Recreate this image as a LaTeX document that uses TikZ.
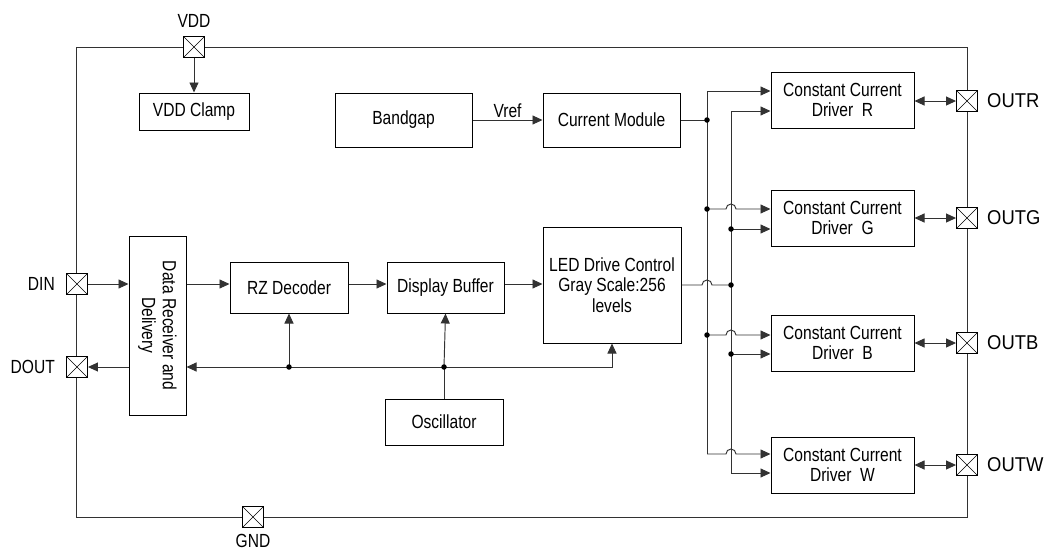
\documentclass[tikz,border=0pt]{standalone}
\usepackage{fontspec}
\setmainfont{Liberation Sans}[FakeStretch=0.82]
\newfontfamily\padfont{Liberation Sans}[FakeStretch=0.92]
\usetikzlibrary{arrows.meta}
\begin{document}
\begin{tikzpicture}[x=1pt,y=-1pt,
  font=\fontsize{19}{20.7}\selectfont,
  blk/.style={draw=black,line width=1pt,fill=white,align=center,inner sep=1pt},
  pad/.style={draw=black,line width=0.9pt,fill=white,minimum size=21pt,inner sep=0pt,
    path picture={\draw[line width=0.6pt] (path picture bounding box.north west)--(path picture bounding box.south east)
      (path picture bounding box.north east)--(path picture bounding box.south west);}},
  wire/.style={draw={rgb,255:red,50;green,50;blue,50},line width=0.95pt},
  arr/.style={wire,-{Triangle[length=10pt,width=9pt]}},
  barr/.style={wire,{Triangle[length=10pt,width=9pt]}-{Triangle[length=10pt,width=9pt]}},
  dot/.style={circle,fill=black,inner sep=0pt,minimum size=5.5pt},
  lbl/.style={inner sep=1pt},
  olbl/.style={inner sep=1pt,font=\padfont\fontsize{20}{22}\selectfont}]
\useasboundingbox (0,0) rectangle (1045,550);
% outer frame
\draw[wire] (76,47) rectangle (967,517);
% pads
\node[pad] (vdd) at (194,47) {};
\node[lbl] at (194,21) {VDD};
\node[pad] (gnd) at (253,517) {};
\node[lbl] at (253,541) {GND};
\node[pad] (din) at (77,284) {};
\node[lbl,anchor=east] at (56,284) {DIN};
\node[pad] (dout) at (77,367) {};
\node[lbl,anchor=east] at (56,367) {DOUT};
% blocks
\node[blk,minimum width=110pt,minimum height=37pt] (clamp) at (194,111.5) {VDD Clamp};
\node[blk,minimum width=137pt,minimum height=54pt] (bg) at (403.5,120) {Bandgap};
\node[blk,minimum width=137pt,minimum height=54pt] (cm) at (611.5,120) {Current Module};
\node[blk,minimum width=179pt,minimum height=57pt,rotate=-90] (dr) at (157.5,325.5) {Data Receiver and\\Delivery};
\node[blk,minimum width=118pt,minimum height=51pt] (rz) at (289,287.5) {RZ Decoder};
\node[blk,minimum width=117pt,minimum height=51pt] (db) at (445.5,287.5) {Display Buffer};
\node[blk,minimum width=138pt,minimum height=116pt] (led) at (612,285) {LED Drive Control\\Gray Scale:256\\levels};
\node[blk,minimum width=118pt,minimum height=46pt] (osc) at (444,422) {Oscillator};
\node[blk,minimum width=143pt,minimum height=56pt] (drR) at (842.5,100) {Constant Current\\Driver\ \ R};
\node[blk,minimum width=143pt,minimum height=56pt] (drG) at (842.5,218) {Constant Current\\Driver\ \ G};
\node[blk,minimum width=143pt,minimum height=56pt] (drB) at (842.5,343) {Constant Current\\Driver\ \ B};
\node[blk,minimum width=143pt,minimum height=56pt] (drW) at (842.5,465) {Constant Current\\Driver\ \ W};
\node[pad] (oR) at (967,101) {};
\node[pad] (oG) at (967,218) {};
\node[pad] (oB) at (967,343) {};
\node[pad] (oW) at (967,465) {};
\node[olbl,anchor=west] at (986,101) {OUTR};
\node[olbl,anchor=west] at (986,218) {OUTG};
\node[olbl,anchor=west] at (986,343) {OUTB};
\node[olbl,anchor=west] at (986,465) {OUTW};
% top connections
\draw[arr] (vdd.south) -- (clamp.north);
\draw[arr] (bg.east) -- node[above=1pt,lbl]{Vref} (cm.west);
% left data path (dr is rotated: south = left side, north = right side)
\draw[arr] (din.east) -- (din -| dr.south);
\draw[arr] (din -| dr.north) -- (din -| rz.west);
\draw[arr] (din -| rz.east) -- (din -| db.west);
\draw[arr] (din -| db.east) -- (din -| led.west);
\draw[arr] (dout -| dr.south) -- (dout.east);
% clock bus
\coordinate (j2) at (osc.north |- dout);
\coordinate (j1) at (289,367);
\draw[wire] (osc.north) -- (j2);
\draw[arr] (j2) -- (j2 -| dr.north);
\draw[arr] (j2) -| (led.south);
\draw[arr] (j1) -- (j1 |- rz.south);
\draw[arr] (j2) -- (db.south);
\node[dot] at (j1) {};
\node[dot] at (j2) {};
% driver buses
\coordinate (b1) at (707,0);
\coordinate (b2) at (731,0);
\coordinate (rU) at ([yshift=9pt]drR.west);
\coordinate (rL) at ([yshift=-11pt]drR.west);
\coordinate (gU) at ([yshift=9pt]drG.west);
\coordinate (gL) at ([yshift=-11pt]drG.west);
\coordinate (bU) at ([yshift=8pt]drB.west);
\coordinate (bL) at ([yshift=-11pt]drB.west);
\coordinate (wU) at ([yshift=11pt]drW.west);
\coordinate (wL) at ([yshift=-8pt]drW.west);
\draw[wire] (rU -| b1) -- (wU -| b1);
\draw[wire] (rL -| b2) -- (wL -| b2);
\draw[arr] (rU -| b1) -- (rU);
\draw[arr] (rL -| b2) -- (rL);
\foreach \u in {gU,bU,wU}{
  \draw[arr] (\u -| b1) -- ([xshift=-5pt]\u -| b2) arc[start angle=180,end angle=0,radius=5pt] -- (\u);
}
\draw[arr] (gL -| b2) -- (gL);
\draw[arr] (bL -| b2) -- (bL);
\draw[arr] (wL -| b2) -- (wL);
\node[dot] at (gU -| b1) {};
\node[dot] at (bU -| b1) {};
\node[dot] at (gL -| b2) {};
\node[dot] at (bL -| b2) {};
\draw[wire] (cm.east) -- (cm.east -| b1);
\node[dot] at (cm.east -| b1) {};
\draw[wire] (led.east) -- ([xshift=-5pt]led.east -| b1) arc[start angle=180,end angle=0,radius=5pt] -- (led.east -| b2);
\node[dot] at (led.east -| b2) {};
% outputs
\draw[barr] (drR.east |- oR) -- (oR.west);
\draw[barr] (drG.east) -- (oG.west);
\draw[barr] (drB.east) -- (oB.west);
\draw[barr] (drW.east) -- (oW.west);
\end{tikzpicture}
\end{document}
